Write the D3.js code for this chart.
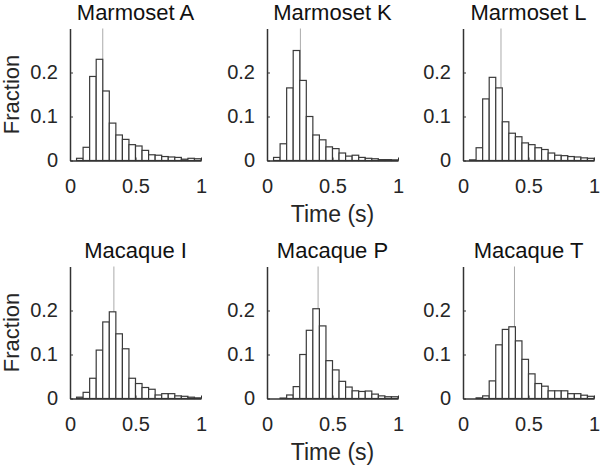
<!DOCTYPE html>
<html>
<head>
<meta charset="utf-8">
<script src="https://cdn.jsdelivr.net/npm/d3@7"></script>
<style>
  html, body { margin: 0; padding: 0; background: #fff; }
  svg { display: block; font-family: "Liberation Sans", Arial, Helvetica, sans-serif; }
</style>
</head>
<body>
<svg id="chart" width="600" height="467"></svg>
<script>
// Bin left edges (bin width 0.05 s)
const binEdges = [0, 0.05, 0.1, 0.15, 0.2, 0.25, 0.3, 0.35, 0.4, 0.45, 0.5, 0.55, 0.6, 0.65, 0.7, 0.75, 0.8, 0.85, 0.9, 0.95];
const binWidth = 0.05;

const titles = ["Marmoset A", "Marmoset K", "Marmoset L", "Macaque I", "Macaque P", "Macaque T"];

const marmosetA = [0, 0.005, 0.030, 0.191, 0.230, 0.158, 0.085, 0.058, 0.048, 0.036, 0.033, 0.023, 0.013, 0.012, 0.009, 0.008, 0.007, 0.003, 0.005, 0.004];
const marmosetK = [0, 0.007, 0.038, 0.165, 0.250, 0.182, 0.100, 0.058, 0.047, 0.031, 0.027, 0.017, 0.010, 0.012, 0.007, 0.005, 0.004, 0.002, 0.002, 0.0015];
const marmosetL = [0, 0.0015, 0.029, 0.140, 0.189, 0.165, 0.088, 0.062, 0.054, 0.040, 0.036, 0.029, 0.025, 0.017, 0.012, 0.011, 0.009, 0.008, 0.006, 0.005];
const macaqueI  = [0, 0.003, 0.014, 0.046, 0.110, 0.174, 0.197, 0.147, 0.113, 0.046, 0.034, 0.025, 0.021, 0.008, 0.011, 0.011, 0.006, 0.005, 0.003, 0.0015];
const macaqueP  = [0, 0, 0.001, 0.008, 0.027, 0.100, 0.155, 0.204, 0.165, 0.086, 0.065, 0.039, 0.026, 0.0175, 0.016, 0.017, 0.010, 0.006, 0.004, 0.004];
const macaqueT  = [0, 0, 0.0015, 0.006, 0.040, 0.122, 0.157, 0.163, 0.131, 0.089, 0.056, 0.034, 0.028, 0.0175, 0.0175, 0.0175, 0.011, 0.011, 0.0075, 0.005];

const seriesList = [marmosetA, marmosetK, marmosetL, macaqueI, macaqueP, macaqueT];
const medians = [0.25, 0.255, 0.29, 0.335, 0.39, 0.393];

const xTicks = [0, 0.5, 1];
const xTickLabels = ["0", "0.5", "1"];
const yTicks = [0, 0.1, 0.2];
const yTickLabels = ["0", "0.1", "0.2"];

const yLabel = "Fraction";
const xLabel = "Time (s)";

// Layout
const colX = [70, 267, 463];
const rowTop = [28.5, 266.5];
const pw = 131, ph = 132;
const axisColor = "#333";
const textColor = "#262626";

const svg = d3.select("#chart");

seriesList.forEach((vals, i) => {
  const col = i % 3, row = Math.floor(i / 3);
  const g = svg.append("g").attr("transform", `translate(${colX[col]},${rowTop[row]})`);
  const x = d3.scaleLinear().domain([0, 1]).range([0, pw]);
  const y = d3.scaleLinear().domain([0, 0.3]).range([ph, 0]);

  // median line
  g.append("line")
    .attr("x1", x(medians[i])).attr("x2", x(medians[i]))
    .attr("y1", y(0.3)).attr("y2", y(0))
    .attr("stroke", "#aaaaaa").attr("stroke-width", 1);

  // bars
  g.selectAll("rect.bar").data(vals.map((v, k) => ({x0: binEdges[k], v})).filter(d => d.v > 0))
    .join("rect")
    .attr("class", "bar")
    .attr("x", d => x(d.x0))
    .attr("width", d => x(d.x0 + binWidth) - x(d.x0))
    .attr("y", d => y(d.v))
    .attr("height", d => y(0) - y(d.v))
    .attr("fill", "#fff")
    .attr("stroke", "#3a3a3a")
    .attr("stroke-width", 1.2);

  // axes
  const yAxis = d3.axisLeft(y).tickValues(yTicks).tickFormat((d, k) => yTickLabels[k]).tickSizeInner(-3).tickSizeOuter(0).tickPadding(12);
  const xAxis = d3.axisBottom(x).tickValues(xTicks).tickFormat((d, k) => xTickLabels[k]).tickSizeInner(-3).tickSizeOuter(0).tickPadding(18);

  const ya = g.append("g").call(yAxis);
  const xa = g.append("g").attr("transform", `translate(0,${ph})`).call(xAxis);
  [ya, xa].forEach(a => {
    a.select(".domain").attr("stroke", axisColor).attr("stroke-width", 1.5);
    a.selectAll(".tick line").attr("stroke", axisColor).attr("stroke-width", 1);
    a.selectAll(".tick text").attr("fill", textColor).style("font-size", "20px");
  });

  // title
  g.append("text")
    .attr("x", pw / 2).attr("y", -9)
    .attr("text-anchor", "middle")
    .attr("fill", "#111")
    .style("font-size", "22px")
    .text(titles[i]);

  if (col === 0) {
    g.append("text")
      .attr("transform", `translate(${19 - colX[col]},${ph / 2}) rotate(-90)`)
      .attr("text-anchor", "middle")
      .attr("fill", textColor)
      .style("font-size", "22px")
      .text(yLabel);
  }
  if (col === 1) {
    g.append("text")
      .attr("x", pw / 2).attr("y", ph + 61)
      .attr("text-anchor", "middle")
      .attr("fill", textColor)
      .style("font-size", "23px")
      .text(xLabel);
  }
});
</script>
</body>
</html>
